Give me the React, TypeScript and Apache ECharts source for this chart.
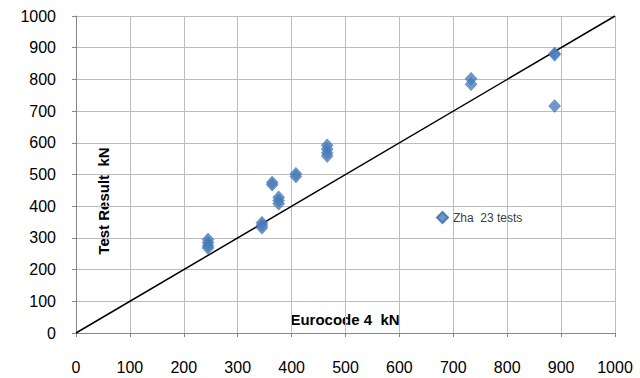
import React, { useEffect, useRef } from "react";
import * as echarts from "echarts";

const eurocodeX = [245, 245, 245, 245, 345, 345, 345, 364, 364, 376, 376, 376, 408, 408, 466, 466, 466, 466, 733, 733, 888, 888, 888];
const testY = [295, 285, 275, 268, 348, 340, 332, 475, 468, 428, 418, 408, 502, 494, 592, 580, 568, 558, 802, 785, 882, 878, 716];
const lineX = [0, 1000];
const lineY = [0, 1000];
const seriesName = "Zha  23 tests";
const xTitle = "Eurocode 4  kN";
const yTitle = "Test Result  kN";

export default function App() {
  const ref = useRef<HTMLDivElement>(null);
  useEffect(() => {
    if (!ref.current) return;
    const chart = echarts.init(ref.current, null, { renderer: "svg" });
    const font = "Liberation Sans";
    chart.setOption({
      animation: false,
      backgroundColor: "#ffffff",
      grid: { left: 76, right: 25, top: 16, bottom: 45 },
      legend: {
        left: 431,
        top: 206,
        itemWidth: 11,
        itemHeight: 11,
        itemGap: 2,
        textStyle: { fontFamily: font, fontSize: 12, color: "#404040" },
        data: [{ name: seriesName, icon: "diamond" }],
      },
      xAxis: {
        type: "value",
        min: 0,
        max: 1000,
        interval: 100,
        axisLine: { show: true, lineStyle: { color: "#868686", width: 1 } },
        axisTick: { show: true, length: 4, lineStyle: { color: "#868686" } },
        splitLine: { show: true, lineStyle: { color: "#bcbcbc", width: 1 } },
        axisLabel: { fontFamily: font, fontSize: 16, color: "#000", margin: 26, formatter: (v: number) => String(v) },
      },
      yAxis: {
        type: "value",
        min: 0,
        max: 1000,
        interval: 100,
        axisLine: { show: true, lineStyle: { color: "#868686", width: 1 } },
        axisTick: { show: true, length: 4, lineStyle: { color: "#868686" } },
        splitLine: { show: true, lineStyle: { color: "#bcbcbc", width: 1 } },
        axisLabel: { fontFamily: font, fontSize: 16, color: "#000", margin: 20, formatter: (v: number) => String(v) },
      },
      graphic: [
        {
          type: "text",
          x: 103,
          y: 201,
          rotation: Math.PI / 2,
          style: {
            text: yTitle,
            fontFamily: font,
            fontSize: 15,
            fontWeight: "bold",
            fill: "#000",
            align: "center",
            verticalAlign: "middle",
          },
        },
        {
          type: "text",
          x: 345,
          y: 319,
          style: {
            text: xTitle,
            fontFamily: font,
            fontSize: 15,
            fontWeight: "bold",
            fill: "#000",
            align: "center",
            verticalAlign: "middle",
          },
        },
      ],
      series: [
        {
          name: "diag",
          type: "line",
          data: lineX.map((x, i) => [x, lineY[i]]),
          symbol: "none",
          lineStyle: { color: "#000", width: 1.5 },
          z: 3,
        },
        {
          name: seriesName,
          type: "scatter",
          data: eurocodeX.map((x, i) => [x, testY[i]]),
          symbol: "diamond",
          symbolSize: [12, 13],
          itemStyle: { color: "#4a7ebb", borderColor: "#3a6aa8", borderWidth: 0.5 },
          z: 4,
        },
      ],
    });
    return () => chart.dispose();
  }, []);
  return <div ref={ref} style={{ position: "fixed", left: 0, top: 0, width: 640, height: 378 }} />;
}
